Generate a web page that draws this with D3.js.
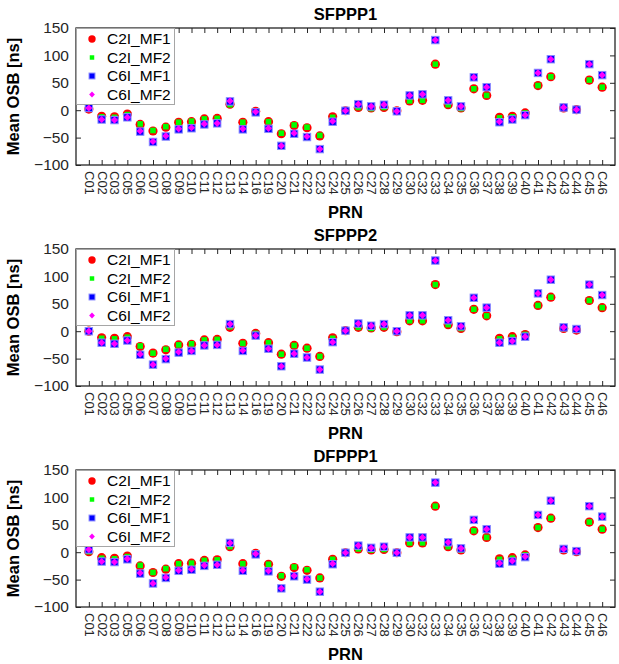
<!DOCTYPE html>
<html>
<head>
<meta charset="utf-8">
<script src="https://cdn.jsdelivr.net/npm/d3@7"></script>
<style>
  body { margin: 0; background: #fff; }
  svg { display: block; font-family: "Liberation Sans", Arial, sans-serif; }
</style>
</head>
<body>
<script>
'use strict';

var prn = ['C01','C02','C03','C05','C06','C07','C08','C09','C10','C11','C12','C13','C14','C16','C19',
  'C20','C21','C22','C23','C24','C25','C26','C27','C28','C29','C30','C32','C33','C34','C35',
  'C36','C37','C38','C39','C40','C41','C42','C43','C44','C45','C46'];

var yTicks = [-100, -50, 0, 50, 100, 150];
var seriesNames = ['C2I_MF1', 'C2I_MF2', 'C6I_MF1', 'C6I_MF2'];
var panelTitles = ['SFPPP1', 'SFPPP2', 'DFPPP1'];

// SFPPP1
var sf1C2IMF1 = [2,-11,-12,-7,-26,-38,-31,-22,-21,-16,-15,11,-22,-2,-21,-43,-28,-32,-47,-12,-1,5,4,5,-1,17,18,84,10,4,39,27,-13,-11,-5,45,61,4,1,55,42];
var sf1C2IMF2 = [2,-12,-13,-8,-25,-37,-30,-22,-20,-16,-15,10,-22,-2,-21,-42,-27,-31,-46,-13,-1,5,3,5,-1,17,18,84,10,3,39,27,-14,-12,-5,45,61,4,1,55,42];
var sf1C6IMF1 = [4,-17,-18,-13,-39,-58,-48,-35,-33,-26,-24,16,-35,-4,-34,-65,-43,-49,-71,-21,-1,11,7,10,-2,27,29,128,18,7,60,42,-22,-17,-9,68,93,5,1,84,64];
var sf1C6IMF2 = [4,-17,-18,-13,-38,-57,-47,-34,-32,-25,-24,17,-34,-3,-33,-65,-42,-48,-71,-20,-1,11,7,10,-2,27,29,128,18,7,60,42,-21,-17,-9,68,93,5,1,84,64];

// SFPPP2
var sf2C2IMF1 = [0,-12,-13,-10,-28,-40,-34,-25,-24,-16,-15,7,-22,-4,-21,-42,-26,-31,-46,-12,1,7,6,7,-1,19,19,85,12,5,40,28,-13,-10,-6,47,62,5,2,56,43];
var sf2C2IMF2 = [0,-13,-14,-11,-27,-40,-33,-25,-23,-16,-15,8,-22,-4,-21,-42,-26,-31,-46,-13,1,7,5,7,-1,19,19,85,12,5,40,28,-14,-11,-6,47,62,5,2,56,43];
var sf2C6IMF1 = [0,-21,-23,-17,-43,-61,-51,-39,-36,-26,-25,13,-36,-8,-32,-64,-41,-48,-70,-20,1,14,10,13,0,29,29,129,20,9,61,43,-21,-18,-10,69,94,7,4,85,66];
var sf2C6IMF2 = [0,-21,-23,-17,-42,-61,-50,-38,-36,-26,-25,13,-35,-8,-32,-64,-41,-48,-70,-20,1,14,10,13,0,29,29,129,20,9,61,43,-21,-18,-10,69,94,7,4,85,66];

// DFPPP1
var df1C2IMF1 = [1,-10,-11,-7,-25,-37,-31,-21,-20,-15,-14,10,-21,-2,-22,-44,-28,-33,-47,-13,-1,6,4,5,-1,17,17,84,10,4,39,27,-12,-10,-5,45,62,4,1,55,42];
var df1C2IMF2 = [1,-11,-12,-8,-24,-37,-30,-21,-20,-15,-14,10,-21,-2,-22,-43,-27,-32,-47,-13,-1,6,4,5,-1,17,17,84,10,4,39,27,-13,-11,-5,45,62,4,1,55,42];
var df1C6IMF1 = [5,-17,-18,-13,-39,-57,-47,-34,-32,-25,-23,17,-34,-4,-35,-66,-44,-50,-72,-22,-1,12,8,10,-1,27,27,127,18,7,59,42,-21,-17,-9,68,94,6,2,84,65];
var df1C6IMF2 = [5,-17,-18,-12,-38,-57,-46,-33,-31,-24,-23,17,-33,-3,-34,-66,-43,-49,-72,-21,-1,12,8,10,-1,27,27,127,18,7,59,42,-20,-16,-8,68,94,6,2,84,65];

var panelData = [
  [sf1C2IMF1, sf1C2IMF2, sf1C6IMF1, sf1C6IMF2],
  [sf2C2IMF1, sf2C2IMF2, sf2C6IMF1, sf2C6IMF2],
  [df1C2IMF1, df1C2IMF2, df1C6IMF1, df1C6IMF2]
];

var width = 619;
var height = 664;
var axisColor = '#262626';
var plotLeft = 76;
var plotRight = 615;
var plotTops = [28, 249, 470];
var plotH = 137;

var svg = d3.select('body').append('svg')
    .attr('width', width)
    .attr('height', height);

svg.append('rect').attr('width', width).attr('height', height).attr('fill', '#fff');

var x = d3.scalePoint()
    .domain(prn)
    .range([plotLeft, plotRight])
    .padding(1);

// marker drawers, in series order
function drawMarker(g, kind, cx, cy, legend) {
  var s = legend ? 0.8 : 1;
  if (kind === 0) {
    g.append('circle').attr('cx', cx).attr('cy', cy).attr('r', 4.6 * s).attr('fill', '#ff0000');
  } else if (kind === 1) {
    var a = 5.6 * s;
    g.append('rect').attr('x', cx - a / 2).attr('y', cy - a / 2).attr('width', a).attr('height', a)
      .attr('fill', '#00ff00');
  } else if (kind === 2) {
    var b = 7.4 * s;
    g.append('rect').attr('x', cx - b / 2).attr('y', cy - b / 2).attr('width', b).attr('height', b)
      .attr('fill', '#0000ff').attr('stroke', '#8a8aff').attr('stroke-width', 1);
  } else {
    var d = 3.6 * s;
    g.append('path')
      .attr('d', 'M' + cx + ',' + (cy - d) + 'L' + (cx + d) + ',' + cy + 'L' + cx + ',' + (cy + d) + 'L' + (cx - d) + ',' + cy + 'Z')
      .attr('fill', '#ff00ff');
  }
}

panelTitles.forEach(function(title, p) {
  var top = plotTops[p];
  var y = d3.scaleLinear().domain([-100, 150]).range([top + plotH, top]);
  var g = svg.append('g');

  // axes with inward ticks
  var bottom = g.append('g')
      .attr('transform', 'translate(0,' + (top + plotH) + ')')
      .call(d3.axisBottom(x).tickSize(-5).tickSizeOuter(0).tickPadding(6));
  bottom.selectAll('text')
      .attr('transform', 'rotate(90)')
      .attr('x', 6)
      .attr('y', 0)
      .attr('dy', '0.35em')
      .attr('text-anchor', 'start')
      .style('font-size', '13px');

  g.append('g')
      .attr('transform', 'translate(0,' + top + ')')
      .call(d3.axisTop(x).tickSize(-5).tickSizeOuter(0).tickFormat(''));

  g.append('g')
      .attr('transform', 'translate(' + plotLeft + ',0)')
      .call(d3.axisLeft(y).tickValues(yTicks).tickSize(-5).tickSizeOuter(0).tickPadding(7))
      .selectAll('text').style('font-size', '15.5px');

  g.append('g')
      .attr('transform', 'translate(' + plotRight + ',0)')
      .call(d3.axisRight(y).tickValues(yTicks).tickSize(-5).tickSizeOuter(0).tickFormat(''));

  g.selectAll('.domain').remove();
  g.selectAll('.tick line').attr('stroke', axisColor);
  g.selectAll('.tick text').attr('fill', axisColor).style('font-family', '"Liberation Sans", Arial, sans-serif');

  g.append('rect')
      .attr('x', plotLeft).attr('y', top)
      .attr('width', plotRight - plotLeft).attr('height', plotH)
      .attr('fill', 'none').attr('stroke', axisColor).attr('stroke-width', 1.3);

  // title, axis labels
  g.append('text')
      .attr('x', (plotLeft + plotRight) / 2).attr('y', top - 8)
      .attr('text-anchor', 'middle')
      .style('font-size', '16.5px').style('font-weight', 'bold')
      .attr('fill', '#000')
      .text(title);

  g.append('text')
      .attr('x', (plotLeft + plotRight) / 2).attr('y', top + plotH + 53)
      .attr('text-anchor', 'middle')
      .style('font-size', '16.5px').style('font-weight', 'bold')
      .attr('fill', '#000')
      .text('PRN');

  g.append('text')
      .attr('transform', 'translate(19,' + (top + plotH / 2) + ') rotate(-90)')
      .attr('text-anchor', 'middle')
      .style('font-size', '16.5px').style('font-weight', 'bold')
      .attr('fill', '#000')
      .text('Mean OSB [ns]');

  // points
  var marks = g.append('g');
  panelData[p].forEach(function(vals, k) {
    var sg = marks.append('g');
    vals.forEach(function(v, i) {
      drawMarker(sg, k, x(prn[i]), y(v), false);
    });
  });

  // legend
  var lg = g.append('g');
  lg.append('rect')
      .attr('x', plotLeft + 0.5).attr('y', top + 0.5)
      .attr('width', 98).attr('height', 76)
      .attr('fill', '#fff').attr('stroke', '#a6a6a6').attr('stroke-width', 1);
  seriesNames.forEach(function(name, k) {
    var ly = top + 11 + k * 18.5;
    drawMarker(lg, k, plotLeft + 16, ly, true);
    lg.append('text')
        .attr('x', plotLeft + 31).attr('y', ly)
        .attr('dy', '0.35em')
        .style('font-size', '15.5px')
        .attr('fill', '#000')
        .text(name);
  });
});
</script>
</body>
</html>
